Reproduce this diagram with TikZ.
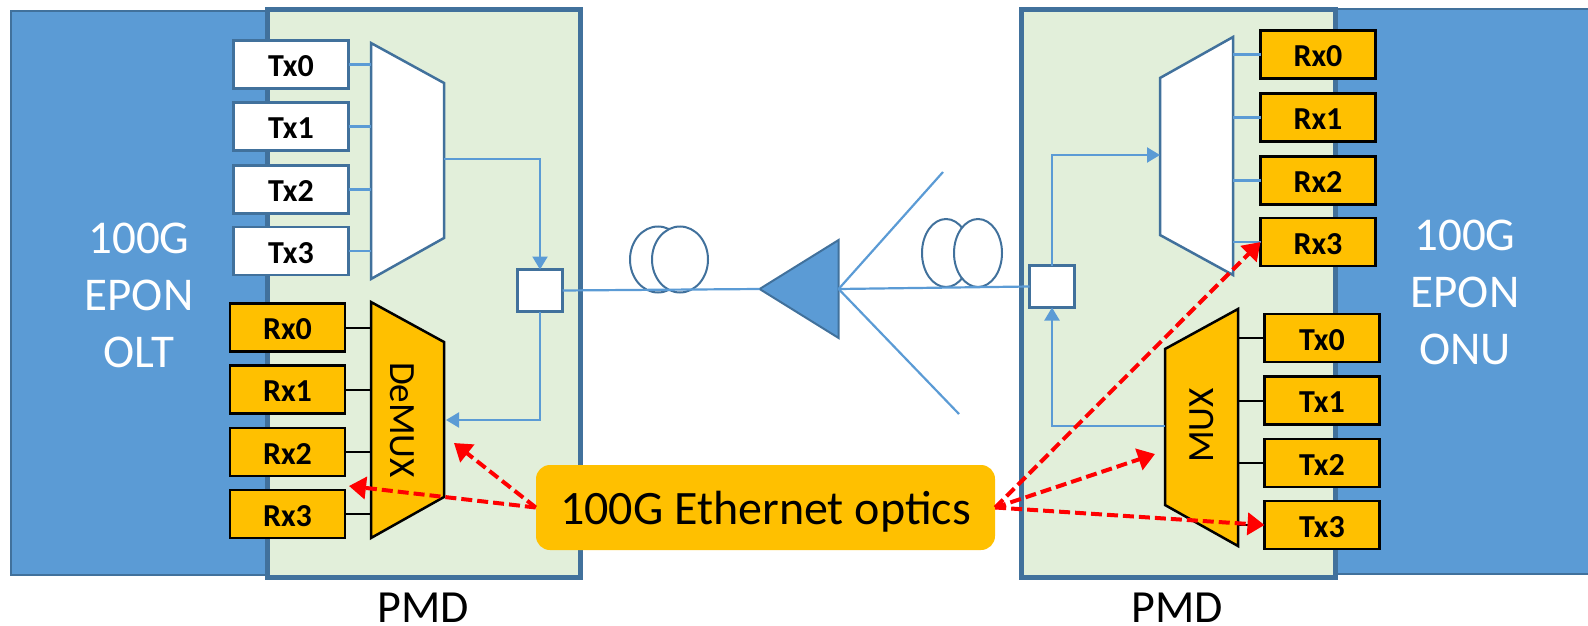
\documentclass[tikz,border=0pt]{standalone}
\usepackage{fontspec}
\setmainfont{Carlito}
\usetikzlibrary{
    arrows.meta,
    shapes.geometric,
    calc
}
\definecolor{epon}{HTML}{5B9BD5}
\definecolor{eponline}{HTML}{41719C}
\definecolor{pmdgreen}{HTML}{E2EFDA}
\definecolor{optics}{HTML}{FFC000}
\tikzset{
    stack/.style={draw=eponline, line width=2pt, fill=epon},
    stacklabel/.style={text=white, font=\fontsize{47}{57}\selectfont, align=center},
    pmd/.style={draw=eponline, line width=5pt, fill=pmdgreen},
    pmdlabel/.style={font=\fontsize{46}{56}\selectfont},
    lane/.style={minimum width=115pt, minimum height=48pt, inner sep=0pt, outer sep=0pt, text height=24pt, text depth=0pt, font=\fontsize{32}{38}\bfseries},
    txlane/.style={lane, draw=eponline, line width=2.5pt, fill=white},
    optlane/.style={lane, draw=black, line width=2.5pt, fill=optics},
    whitemux/.style={draw=eponline, line width=2.5pt, fill=white, line join=miter},
    optmux/.style={draw=black, line width=2.5pt, fill=optics, line join=miter},
    muxlabel/.style={font=\fontsize{37}{44}\selectfont},
    coupler/.style={rectangle, draw=eponline, line width=2.5pt, fill=white, minimum width=45pt, minimum height=42pt, inner sep=0pt, outer sep=0pt},
    coil/.style={ellipse, draw=eponline, line width=2pt, inner sep=0pt, outer sep=0pt},
    wire/.style={draw=epon, line width=2.2pt},
    arrowed/.style={-{Triangle[length=13pt, width=15pt]}},
    callout/.style={-{Triangle[length=17pt, width=22pt]}, draw=red, line width=4pt, dash pattern=on 11pt off 5pt}
}

\begin{document}
\begin{tikzpicture}[x=1pt, y=-1pt]
    \useasboundingbox (0, 0) rectangle (1588, 626);

    % the two stacks
    \draw[stack] (11, 11) rectangle (267, 575);
    \draw[stack] (1335, 9) rectangle (1600, 574);
    \draw[pmd] (267, 10) rectangle (580, 577);
    \draw[pmd] (1021, 10) rectangle (1335, 577);

    \node[stacklabel] at (139, 295) {100G\\EPON\\OLT};
    \node[stacklabel] at (1465, 292) {100G\\EPON\\ONU};
    \node[pmdlabel] at (423, 608) {PMD};
    \node[pmdlabel] at (1177, 608) {PMD};

    % OLT side
    \node[txlane] (otxa) at (291, 64.5) {Tx0};
    \node[txlane] (otxb) at (291, 126.5) {Tx1};
    \node[txlane] (otxc) at (291, 189.5) {Tx2};
    \node[txlane] (otxd) at (291, 251) {Tx3};
    \node[optlane] (orxa) at (287.5, 327.5) {Rx0};
    \node[optlane] (orxb) at (287.5, 389.5) {Rx1};
    \node[optlane] (orxc) at (287.5, 452) {Rx2};
    \node[optlane] (orxd) at (287.5, 514) {Rx3};
    \draw[whitemux] (371, 43) -- (444, 83) -- (444, 238) -- (371, 279) -- cycle;
    \draw[optmux] (371, 302) -- (444, 342) -- (444, 497) -- (371, 538) -- cycle;
    \node[muxlabel, rotate=-90] (odemux) at (402, 420) {DeMUX};
    \coordinate (omuxin) at (371, 161);
    \coordinate (omuxout) at (444, 159);
    \coordinate (odemuxin) at (446, 420);
    \coordinate (odemuxout) at (371, 420);
    \node[coupler] (ocoupler) at (540, 290.5) {};

    % ONU side
    \node[optlane] (nrxa) at (1318, 54.5) {Rx0};
    \node[optlane] (nrxb) at (1318, 117.5) {Rx1};
    \node[optlane] (nrxc) at (1318, 180.5) {Rx2};
    \node[optlane] (nrxd) at (1318, 242) {Rx3};
    \node[optlane] (ntxa) at (1322, 338) {Tx0};
    \node[optlane] (ntxb) at (1322, 400.5) {Tx1};
    \node[optlane] (ntxc) at (1322, 463) {Tx2};
    \node[optlane] (ntxd) at (1322, 525) {Tx3};
    \draw[whitemux] (1233, 37) -- (1160, 78) -- (1160, 235) -- (1233, 275) -- cycle;
    \draw[optmux] (1238, 309) -- (1165, 349) -- (1165, 505) -- (1238, 546) -- cycle;
    \node[muxlabel, rotate=90] (nmux) at (1202, 425.5) {MUX};
    \coordinate (ndemuxin) at (1160, 155);
    \coordinate (ndemuxout) at (1233, 155);
    \coordinate (nmuxin) at (1238, 426);
    \coordinate (nmuxout) at (1165, 426);
    \node[coupler] (ncoupler) at (1052, 286.5) {};

    % outside plant
    \node[isosceles triangle, isosceles triangle stretches=true, shape border rotate=180, draw=eponline, line width=2pt, fill=epon,
        minimum width=98pt, minimum height=79pt, inner sep=0pt, outer sep=0pt] (amp) at (812, 289) {\phantom{x}};
    \node[coil, minimum width=56pt, minimum height=66pt] (ocoila) at (658, 259.5) {};
    \node[coil, fill=white, minimum width=56pt, minimum height=66pt] (ocoilb) at (680, 259.5) {};
    \node[coil, minimum width=48pt, minimum height=68pt] (ncoila) at (946, 253) {};
    \node[coil, fill=white, minimum width=48pt, minimum height=68pt] (ncoilb) at (978, 253) {};
    \coordinate (splitup) at (943, 172);
    \coordinate (splitdown) at (959, 414);

    % connectors
    \draw[wire]
    (otxa.east) edge (otxa.east -| omuxin)
    (otxb.east) edge (otxb.east -| omuxin)
    (otxc.east) edge (otxc.east -| omuxin)
    (otxd.east) edge (otxd.east -| omuxin)
    (ndemuxout |- nrxa.east) edge (nrxa.west)
    (ndemuxout |- nrxb.east) edge (nrxb.west)
    (ndemuxout |- nrxc.east) edge (nrxc.west)
    (ndemuxout |- nrxd.east) edge (nrxd.west)
    (ocoupler.east) edge (amp.apex)
    (amp.lower side) edge (splitup)
    (amp.lower side) edge (splitdown)
    (amp.lower side) edge (ncoupler.west);
    \draw[black, line width=2pt]
    (orxa.east) edge (orxa.east -| odemuxout)
    (orxb.east) edge (orxb.east -| odemuxout)
    (orxc.east) edge (orxc.east -| odemuxout)
    (orxd.east) edge (orxd.east -| odemuxout)
    (nmuxin |- ntxa.west) edge (ntxa.west)
    (nmuxin |- ntxb.west) edge (ntxb.west)
    (nmuxin |- ntxc.west) edge (ntxc.west)
    (nmuxin |- ntxd.west) edge (ntxd.west);
    \draw[wire, arrowed] (omuxout) -| (ocoupler.north);
    \draw[wire, arrowed] (ocoupler.south) |- (odemuxin);
    \draw[wire, arrowed] (ncoupler.north) |- (ndemuxin);
    \draw[wire, arrowed] (nmuxout) -| (ncoupler.south);

    % optics callout
    \node[fill=optics, rounded corners=14pt, minimum width=459pt, minimum height=85pt, inner sep=0pt, text depth=0pt, font=\fontsize{48}{58}\selectfont] (ethoptics) at (765.5, 507.5) {100G Ethernet optics};
    \coordinate (demuxgap) at (454, 443);
    \coordinate (rxgap) at (349, 486);
    \coordinate (muxgap) at (1155, 454);
    \draw[callout] (ethoptics.west) -- (demuxgap);
    \draw[callout] (ethoptics.west) -- (rxgap);
    \draw[callout] (ethoptics.east) -- (nrxd.west);
    \draw[callout] (ethoptics.east) -- (muxgap);
    \draw[callout] (ethoptics.east) -- (ntxd.west);
\end{tikzpicture}
\end{document}
